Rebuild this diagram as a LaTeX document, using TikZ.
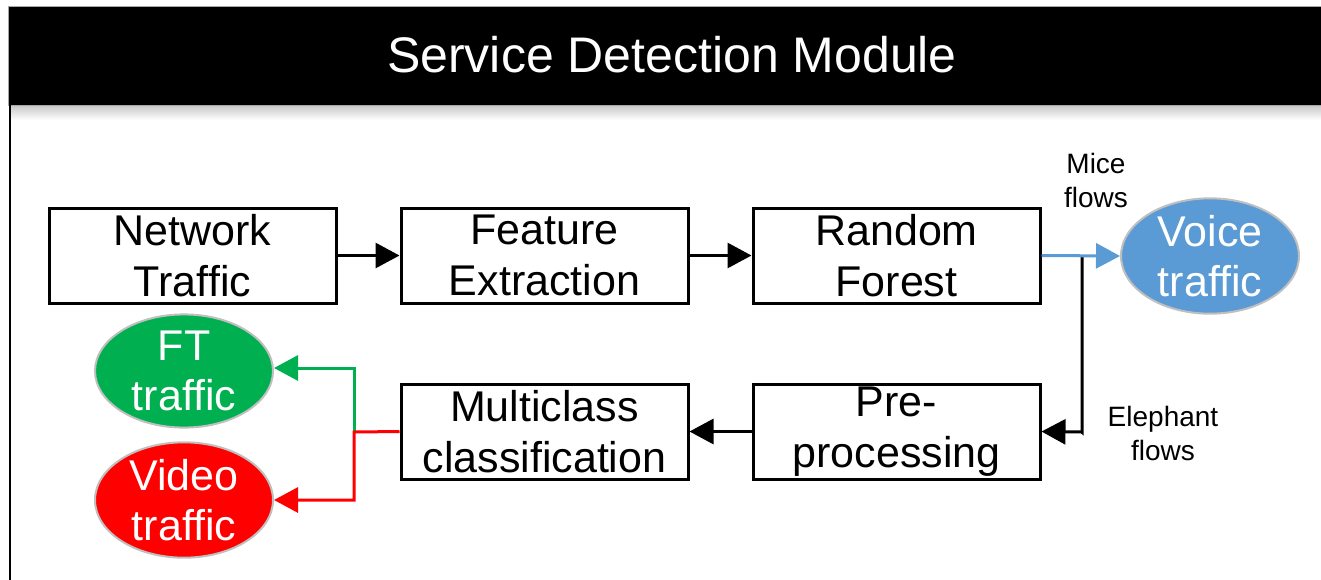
\documentclass[tikz,border=0pt]{standalone}
\usepackage{fontspec}
\setmainfont{Liberation Sans}
\usetikzlibrary{arrows.meta,shapes.geometric,calc}
\definecolor{voiceblue}{HTML}{5B9BD5}
\definecolor{ftgreen}{HTML}{00B050}
\definecolor{vidred}{HTML}{FF0000}
\tikzset{
  stepbox/.style={draw=black,line width=3pt,minimum width=287pt,minimum height=95pt,inner sep=0pt,align=center,font=\fontsize{43}{51}\selectfont},
  oval/.style={ellipse,draw=black!25,line width=2pt,minimum width=178pt,minimum height=108pt,inner sep=0pt,align=center,text=white,font=\fontsize{43}{50}\selectfont},
  conn/.style={line width=3pt,-{Triangle[length=24pt,width=25pt]}},
  lbl/.style={align=center,font=\fontsize{28}{34}\selectfont}
}
\begin{document}
\begin{tikzpicture}[x=1pt,y=-1pt]
\useasboundingbox (0,0) rectangle (1321,579);
% header shadow
\shade[top color=black!22,bottom color=white] (9,105) rectangle (1321,120);
% header
\begin{scope}
\clip (0,0) rectangle (1321,579);
\draw[fill=black,draw=black!35,line width=1pt] (8,6) rectangle (1330,105);
\end{scope}
\node[text=white,font=\fontsize{50}{56}\selectfont] (title) at (672,55) {Service Detection Module};
% left frame
\draw[line width=2.5pt] (10,105) -- (10,582);
% boxes
\node[stepbox] (nt) at (192.5,255.5) {Network\\Traffic};
\node[stepbox] (fe) at (544.5,255.5) {Feature\\Extraction};
\node[stepbox] (rf) at (896.5,255.5) {Random\\Forest};
\node[stepbox] (mc) at (544.5,431.5) {Multiclass\\classification};
\node[stepbox] (pp) at (896.5,431.5) {Pre-\\processing};
% ellipses
\node[oval,fill=voiceblue] (vt) at (1210,256) {Voice\\traffic};
\node[oval,fill=ftgreen] (ft) at (184,371) {FT\\traffic};
\node[oval,fill=vidred] (vd) at (184,500) {Video\\traffic};
% labels
\node[lbl] (mice) at (1096,180) {Mice\\flows};
\node[lbl] (eleph) at (1163,433) {Elephant\\flows};
% connectors
\draw[conn] (nt.east) -- (fe.west);
\draw[conn] (fe.east) -- (rf.west);
\coordinate (split) at (1082,257);
\draw[line width=3pt] (split) -- (1082,432) -- ($(pp.east)+(40,0)$);
\draw[conn] (1082,432) -- (pp.east);
\draw[conn,voiceblue] (rf.east) -- (vt.west);
\draw[conn] (pp.west) -- (mc.west -| mc.east);
\coordinate (fork) at (354,432);
\draw[conn,ftgreen] (fork) -- (354,368) -- (ft.east |- 0,368);
\draw[conn,vidred] (mc.west) -- (fork) -- (354,500) -- (vd.east);
\end{tikzpicture}
\end{document}
